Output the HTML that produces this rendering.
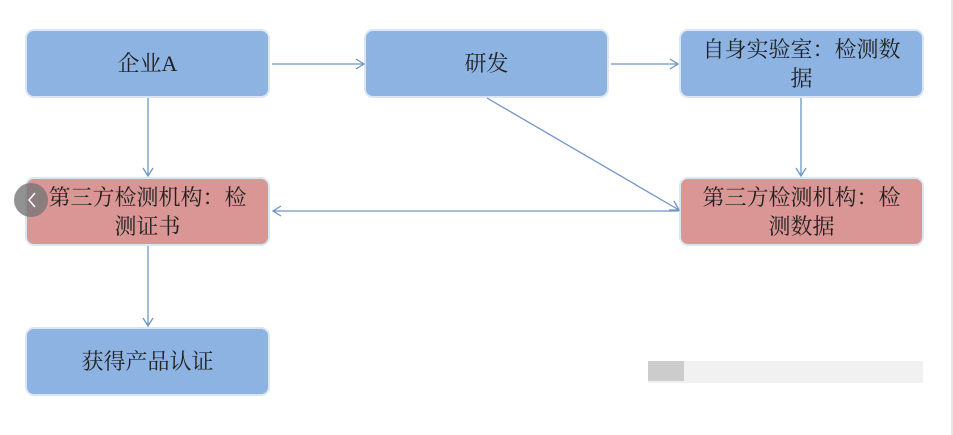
<!DOCTYPE html>
<html><head><meta charset="utf-8"><style>
body{margin:0;width:953px;height:435px;background:#fff;position:relative;overflow:hidden;font-family:"Liberation Serif","Noto Serif CJK SC",serif;}
.b{position:absolute;width:241px;height:65px;border:2px solid #dce6f2;border-radius:9px;background:#8db3e2;display:flex;align-items:center;justify-content:center;text-align:center;font-size:22px;color:#222;line-height:29px;box-sizing:content-box}
.r{background:#d99694}
svg{position:absolute;left:0;top:0}
</style></head><body>
<div class="b" style="left:25px;top:29px">企业A</div>
<div class="b" style="left:364px;top:29px">研发</div>
<div class="b" style="left:679px;top:29px">自身实验室：检测数<br>据</div>
<div class="b r" style="left:25px;top:177px">第三方检测机构：检<br>测证书</div>
<div class="b r" style="left:679px;top:177px">第三方检测机构：检<br>测数据</div>
<div class="b" style="left:25px;top:327px">获得产品认证</div>
<svg width="953" height="435">
<g stroke="#6f94c8" stroke-width="1.3" fill="none">
<path d="M272 64H364M356 59L364 64L356 69"/>
<path d="M611 64H678M670 59L678 64L670 69"/>
<path d="M148 98V176M143 168L148 176L153 168"/>
<path d="M801 98V176M796 168L801 176L806 168"/>
<path d="M487 98L679 210M669 210L679 210L674 201"/>
<path d="M679 211H273M281 206L273 211L281 216"/>
<path d="M148 246V326M143 318L148 326L153 318"/>
</g>
<circle cx="31" cy="200" r="17" fill="#777" opacity="0.8"/>
<path d="M35 193L29 200L35 207" stroke="#fff" stroke-width="1.5" fill="none"/>
<line x1="952" y1="0" x2="952" y2="435" stroke="#ccc"/>
<rect x="648" y="361" width="275" height="22" fill="#f1f1f1"/>
<rect x="648" y="361" width="36" height="20" fill="#ccc"/>
</svg>
</body></html>
